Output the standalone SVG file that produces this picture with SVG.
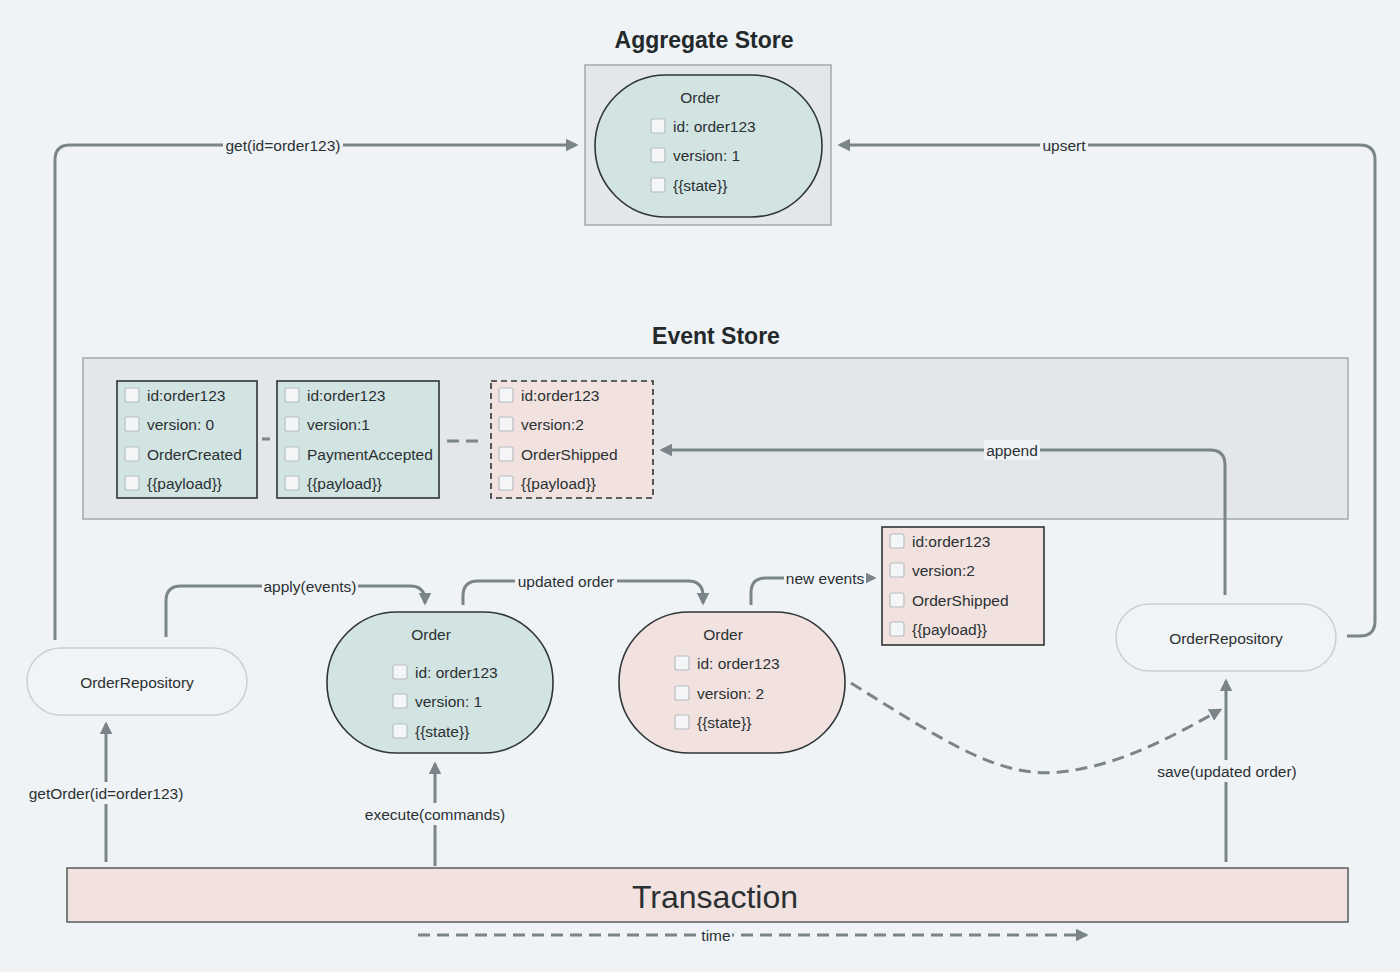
<svg xmlns="http://www.w3.org/2000/svg" width="1400" height="972" viewBox="0 0 1400 972">
<defs>
<style>
text{font-family:"Liberation Sans",Arial,sans-serif;fill:#2b3033;font-size:15.5px}
.title{font-weight:bold;font-size:23px;text-anchor:middle;fill:#24292b}
.c{text-anchor:middle}
.store{fill:#e3e7ea;stroke:#a3abae;stroke-width:1.5}
.teal{fill:#d2e4e1;stroke:#2f3436;stroke-width:1.6}
.pink{fill:#f1e2df;stroke:#2f3436;stroke-width:1.6}
.repo{fill:#f1f4f6;stroke:#c7d0d3;stroke-width:1.5}
.cb{fill:#f3f5f6;stroke:#b8bec1;stroke-width:1.2}
.line{fill:none;stroke:#7b8589;stroke-width:3}
.dash{fill:none;stroke:#7b8589;stroke-width:3;stroke-dasharray:12 7}
.lbl{fill:#eff3f6}
</style>
<marker id="ah" viewBox="0 0 10 10" refX="8" refY="5" markerWidth="4.3" markerHeight="4.3" orient="auto" markerUnits="strokeWidth">
<path d="M0,0 L10,5 L0,10 z" fill="#7b8589"/>
</marker>
</defs>
<rect width="1400" height="972" fill="#eff3f6"/>

<g id="aggregate-store">
<text class="title" x="704" y="48">Aggregate Store</text>
<rect class="store" x="585" y="65" width="246" height="160"/>
<g id="agg-order">
<rect class="teal" x="595" y="75" width="227" height="142" rx="71" ry="71"/>
<text class="c" x="700" y="103">Order</text>
<rect class="cb" x="651" y="119" width="14" height="14" rx="2"/>
<text x="673" y="132">id: order123</text>
<rect class="cb" x="651" y="148" width="14" height="14" rx="2"/>
<text x="673" y="161">version: 1</text>
<rect class="cb" x="651" y="178" width="14" height="14" rx="2"/>
<text x="673" y="191">{{state}}</text>
</g>
</g>

<g id="event-store">
<text class="title" x="716" y="344">Event Store</text>
<rect class="store" x="83" y="358" width="1265" height="161"/>
<g id="event-0">
<rect class="teal" x="117" y="381" width="140" height="117"/>
<rect class="cb" x="125" y="388" width="14" height="14" rx="2"/>
<text x="147" y="401">id:order123</text>
<rect class="cb" x="125" y="417" width="14" height="14" rx="2"/>
<text x="147" y="430">version: 0</text>
<rect class="cb" x="125" y="447" width="14" height="14" rx="2"/>
<text x="147" y="460">OrderCreated</text>
<rect class="cb" x="125" y="476" width="14" height="14" rx="2"/>
<text x="147" y="489">{{payload}}</text>
</g>
<g id="event-1">
<rect class="teal" x="277" y="381" width="162" height="117"/>
<rect class="cb" x="285" y="388" width="14" height="14" rx="2"/>
<text x="307" y="401">id:order123</text>
<rect class="cb" x="285" y="417" width="14" height="14" rx="2"/>
<text x="307" y="430">version:1</text>
<rect class="cb" x="285" y="447" width="14" height="14" rx="2"/>
<text x="307" y="460">PaymentAccepted</text>
<rect class="cb" x="285" y="476" width="14" height="14" rx="2"/>
<text x="307" y="489">{{payload}}</text>
</g>
<g id="event-2">
<rect class="pink" x="491" y="381" width="162" height="117" stroke-dasharray="6 4"/>
<rect class="cb" x="499" y="388" width="14" height="14" rx="2"/>
<text x="521" y="401">id:order123</text>
<rect class="cb" x="499" y="417" width="14" height="14" rx="2"/>
<text x="521" y="430">version:2</text>
<rect class="cb" x="499" y="447" width="14" height="14" rx="2"/>
<text x="521" y="460">OrderShipped</text>
<rect class="cb" x="499" y="476" width="14" height="14" rx="2"/>
<text x="521" y="489">{{payload}}</text>
</g>
</g>

<g id="repo-left">
<rect class="repo" x="27" y="648" width="220" height="67" rx="33.5"/>
<text class="c" x="137" y="688">OrderRepository</text>
</g>

<g id="order-v1">
<rect class="teal" x="327" y="612" width="226" height="141" rx="70" ry="70"/>
<text class="c" x="431" y="640">Order</text>
<rect class="cb" x="393" y="665" width="14" height="14" rx="2"/>
<text x="415" y="678">id: order123</text>
<rect class="cb" x="393" y="694" width="14" height="14" rx="2"/>
<text x="415" y="707">version: 1</text>
<rect class="cb" x="393" y="724" width="14" height="14" rx="2"/>
<text x="415" y="737">{{state}}</text>
</g>

<g id="order-v2">
<rect class="pink" x="619" y="612" width="226" height="141" rx="70" ry="70" stroke="#6f7679"/>
<text class="c" x="723" y="640">Order</text>
<rect class="cb" x="675" y="656" width="14" height="14" rx="2"/>
<text x="697" y="669">id: order123</text>
<rect class="cb" x="675" y="686" width="14" height="14" rx="2"/>
<text x="697" y="699">version: 2</text>
<rect class="cb" x="675" y="715" width="14" height="14" rx="2"/>
<text x="697" y="728">{{state}}</text>
</g>

<g id="new-event">
<rect class="pink" x="882" y="527" width="162" height="118" stroke="#555b5e"/>
<rect class="cb" x="890" y="534" width="14" height="14" rx="2"/>
<text x="912" y="547">id:order123</text>
<rect class="cb" x="890" y="563" width="14" height="14" rx="2"/>
<text x="912" y="576">version:2</text>
<rect class="cb" x="890" y="593" width="14" height="14" rx="2"/>
<text x="912" y="606">OrderShipped</text>
<rect class="cb" x="890" y="622" width="14" height="14" rx="2"/>
<text x="912" y="635">{{payload}}</text>
</g>

<g id="repo-right">
<rect class="repo" x="1116" y="604" width="220" height="67" rx="33.5"/>
<text class="c" x="1226" y="644">OrderRepository</text>
</g>

<g id="transaction">
<rect x="67" y="868" width="1281" height="54" fill="#f1e2df" stroke="#555b5e" stroke-width="1.5"/>
<text class="c" x="715" y="908" style="font-size:32px">Transaction</text>
</g>

<g id="connectors">
<path class="line" d="M55,640 V160 Q55,145 70,145 H576" marker-end="url(#ah)"/>
<path class="line" d="M1347,636 H1360 Q1375,636 1375,621 V160 Q1375,145 1360,145 H840" marker-end="url(#ah)"/>
<path class="line" d="M1225,595 V465 Q1225,450 1210,450 H662" marker-end="url(#ah)"/>
<path class="line" d="M262,439 H270"/>
<path class="dash" d="M447,441 H484"/>
<path class="line" d="M166,637 V601 Q166,586 181,586 H410 Q425,586 425,601 V603" marker-end="url(#ah)"/>
<path class="line" d="M463,605 V596 Q463,581 478,581 H688 Q703,581 703,596 V603" marker-end="url(#ah)"/>
<path class="line" d="M751,605 V593 Q751,578 766,578 H874" marker-end="url(#ah)"/>
<path class="dash" d="M851,683 C950,745 1000,778 1060,772 C1120,766 1175,735 1220,710" marker-end="url(#ah)"/>
<path class="line" d="M106,862 V724" marker-end="url(#ah)"/>
<path class="line" d="M435,866 V764" marker-end="url(#ah)"/>
<path class="line" d="M1226,862 V681" marker-end="url(#ah)"/>
<path class="dash" d="M418,935 H1086" stroke-dasharray="9 5" marker-end="url(#ah)"/>

<rect class="lbl" x="223" y="135" width="120" height="20"/>
<text class="c" x="283" y="151">get(id=order123)</text>
<rect class="lbl" x="1040" y="135" width="48" height="20"/>
<text class="c" x="1064" y="151">upsert</text>
<rect class="lbl" x="984" y="440" width="56" height="20" fill="#e3e7ea"/>
<text class="c" x="1012" y="456">append</text>
<rect class="lbl" x="262" y="576" width="96" height="20"/>
<text class="c" x="310" y="592">apply(events)</text>
<rect class="lbl" x="515" y="571" width="102" height="20"/>
<text class="c" x="566" y="587">updated order</text>
<rect class="lbl" x="784" y="568" width="82" height="20"/>
<text class="c" x="825" y="584">new events</text>
<rect class="lbl" x="26" y="782" width="160" height="22"/>
<text class="c" x="106" y="799">getOrder(id=order123)</text>
<rect class="lbl" x="363" y="803" width="144" height="22"/>
<text class="c" x="435" y="820">execute(commands)</text>
<rect class="lbl" x="1156" y="760" width="142" height="22"/>
<text class="c" x="1227" y="777">save(updated order)</text>
<rect class="lbl" x="700" y="925" width="32" height="20"/>
<text class="c" x="716" y="941">time</text>
</g>
</svg>
